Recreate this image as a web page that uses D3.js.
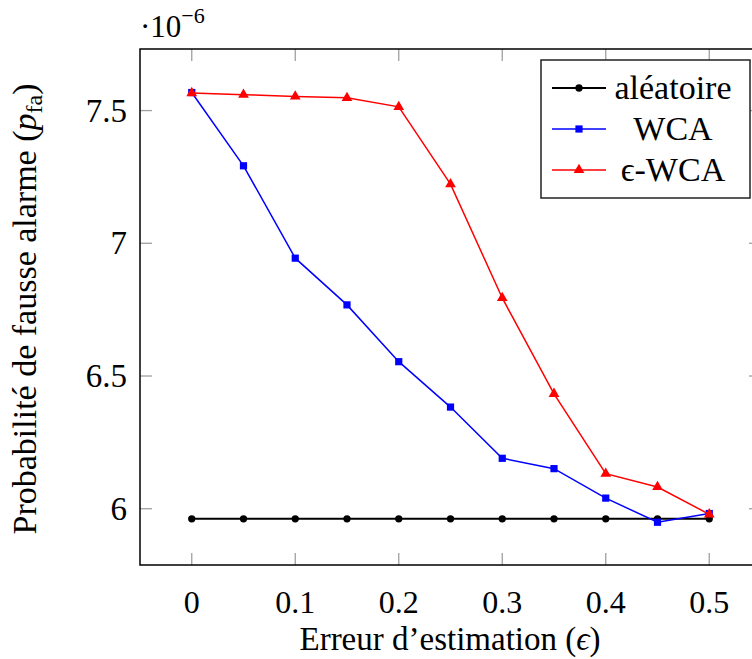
<!DOCTYPE html>
<html><head><meta charset="utf-8">
<script src="https://cdn.jsdelivr.net/npm/d3@7"></script>
<style>body{margin:0;background:#fff}svg{display:block}</style>
</head><body>
<svg id="c" width="752" height="659"></svg>
<script>
const epsilon = [0, 0.05, 0.1, 0.15, 0.2, 0.25, 0.3, 0.35, 0.4, 0.45, 0.5];
const aleatoire = [5.962, 5.962, 5.962, 5.962, 5.962, 5.962, 5.962, 5.962, 5.962, 5.962, 5.962];
const wca = [7.568, 7.292, 6.944, 6.768, 6.554, 6.383, 6.190, 6.151, 6.040, 5.949, 5.982];
const epsWca = [7.566, 7.560, 7.553, 7.548, 7.514, 7.223, 6.794, 6.433, 6.132, 6.082, 5.979];
const xTicks = [0, 0.1, 0.2, 0.3, 0.4, 0.5];
const xTickLabels = ["0", "0.1", "0.2", "0.3", "0.4", "0.5"];
const yTicks = [6, 6.5, 7, 7.5];
const yTickLabels = ["6", "6.5", "7", "7.5"];
const seriesNames = ["aléatoire", "WCA", "ϵ-WCA"];

const FF = "'Liberation Serif', 'Times New Roman', Times, 'DejaVu Serif', serif";
const svg = d3.select("#c");
const L = 140, R = 761, T = 49, B = 565;
const x = d3.scaleLinear().domain([-0.05, 0.55]).range([L, R]);
const y = d3.scaleLinear().domain([5.788, 7.732]).range([B, T]);

function txt(sel, size) {
  return sel.append("text").attr("font-family", FF).attr("font-size", size).attr("fill", "#000");
}

// ticks (inside, gray) on all four sides
const tickLen = 12, tc = "#a0a0a0";
const g = svg.append("g");
xTicks.forEach(t => {
  g.append("line").attr("x1", x(t)).attr("x2", x(t)).attr("y1", B).attr("y2", B - tickLen).attr("stroke", tc).attr("stroke-width", 1.3);
  g.append("line").attr("x1", x(t)).attr("x2", x(t)).attr("y1", T).attr("y2", T + tickLen).attr("stroke", tc).attr("stroke-width", 1.3);
});
yTicks.forEach(t => {
  g.append("line").attr("x1", L).attr("x2", L + tickLen).attr("y1", y(t)).attr("y2", y(t)).attr("stroke", tc).attr("stroke-width", 1.3);
  g.append("line").attr("x1", R).attr("x2", R - tickLen).attr("y1", y(t)).attr("y2", y(t)).attr("stroke", tc).attr("stroke-width", 1.3);
});

// tick labels
xTicks.forEach((t, i) => {
  txt(svg, 32).attr("x", x(t)).attr("y", 613).attr("text-anchor", "middle").text(xTickLabels[i]);
});
yTicks.forEach((t, i) => {
  txt(svg, 33).attr("x", 127).attr("y", y(t) + 11).attr("text-anchor", "end").text(yTickLabels[i]);
});

// multiplier
const mult = txt(svg, 31).attr("x", 140).attr("y", 37);
mult.append("tspan").text("·10");
mult.append("tspan").attr("dy", -14).attr("font-size", 22).text("−6");

// series
const line = d3.line().x((d, i) => x(epsilon[i])).y(d => y(d));
const series = [
  {vals: aleatoire, color: "#000", w: 2, sym: d3.symbolCircle, size: 42},
  {vals: wca, color: "#0000ff", w: 1.5, sym: d3.symbolSquare, size: 52},
  {vals: epsWca, color: "#ff0000", w: 1.5, sym: d3.symbolTriangle, size: 50}
];
series.forEach(s => {
  svg.append("path").attr("d", line(s.vals)).attr("fill", "none").attr("stroke", s.color).attr("stroke-width", s.w);
  s.vals.forEach((v, i) => {
    svg.append("path").attr("d", d3.symbol().type(s.sym).size(s.size)())
      .attr("transform", `translate(${x(epsilon[i])},${y(v)})`).attr("fill", s.color);
  });
});

// frame
svg.append("rect").attr("x", L).attr("y", T).attr("width", R - L).attr("height", B - T)
  .attr("fill", "none").attr("stroke", "#000").attr("stroke-width", 1.5);

// legend
const lg = svg.append("g");
lg.append("rect").attr("x", 541).attr("y", 60).attr("width", 209).attr("height", 138)
  .attr("fill", "#fff").attr("stroke", "#222").attr("stroke-width", 1.5);
const rowsY = [88, 129, 170];
series.forEach((s, i) => {
  lg.append("line").attr("x1", 552).attr("x2", 606).attr("y1", rowsY[i]).attr("y2", rowsY[i])
    .attr("stroke", s.color).attr("stroke-width", s.w);
  lg.append("path").attr("d", d3.symbol().type(s.sym).size(s.size)())
    .attr("transform", `translate(579,${rowsY[i]})`).attr("fill", s.color);
  txt(lg, 34).attr("x", 673).attr("y", rowsY[i] + 11).attr("text-anchor", "middle").text(seriesNames[i]);
});

// axis labels
const xl = txt(svg, 33).attr("x", 450).attr("y", 650).attr("text-anchor", "middle");
xl.append("tspan").text("Erreur d’estimation (");
xl.append("tspan").attr("font-style", "italic").text("ϵ");
xl.append("tspan").text(")");

const yl = txt(svg, 34).attr("transform", "translate(36,309) rotate(-90)").attr("text-anchor", "middle");
yl.append("tspan").text("Probabilité de fausse alarme (");
yl.append("tspan").attr("font-style", "italic").text("p");
yl.append("tspan").attr("dy", 6).attr("font-size", 24).text("fa");
yl.append("tspan").attr("dy", -6).text(")");
</script>
</body></html>
